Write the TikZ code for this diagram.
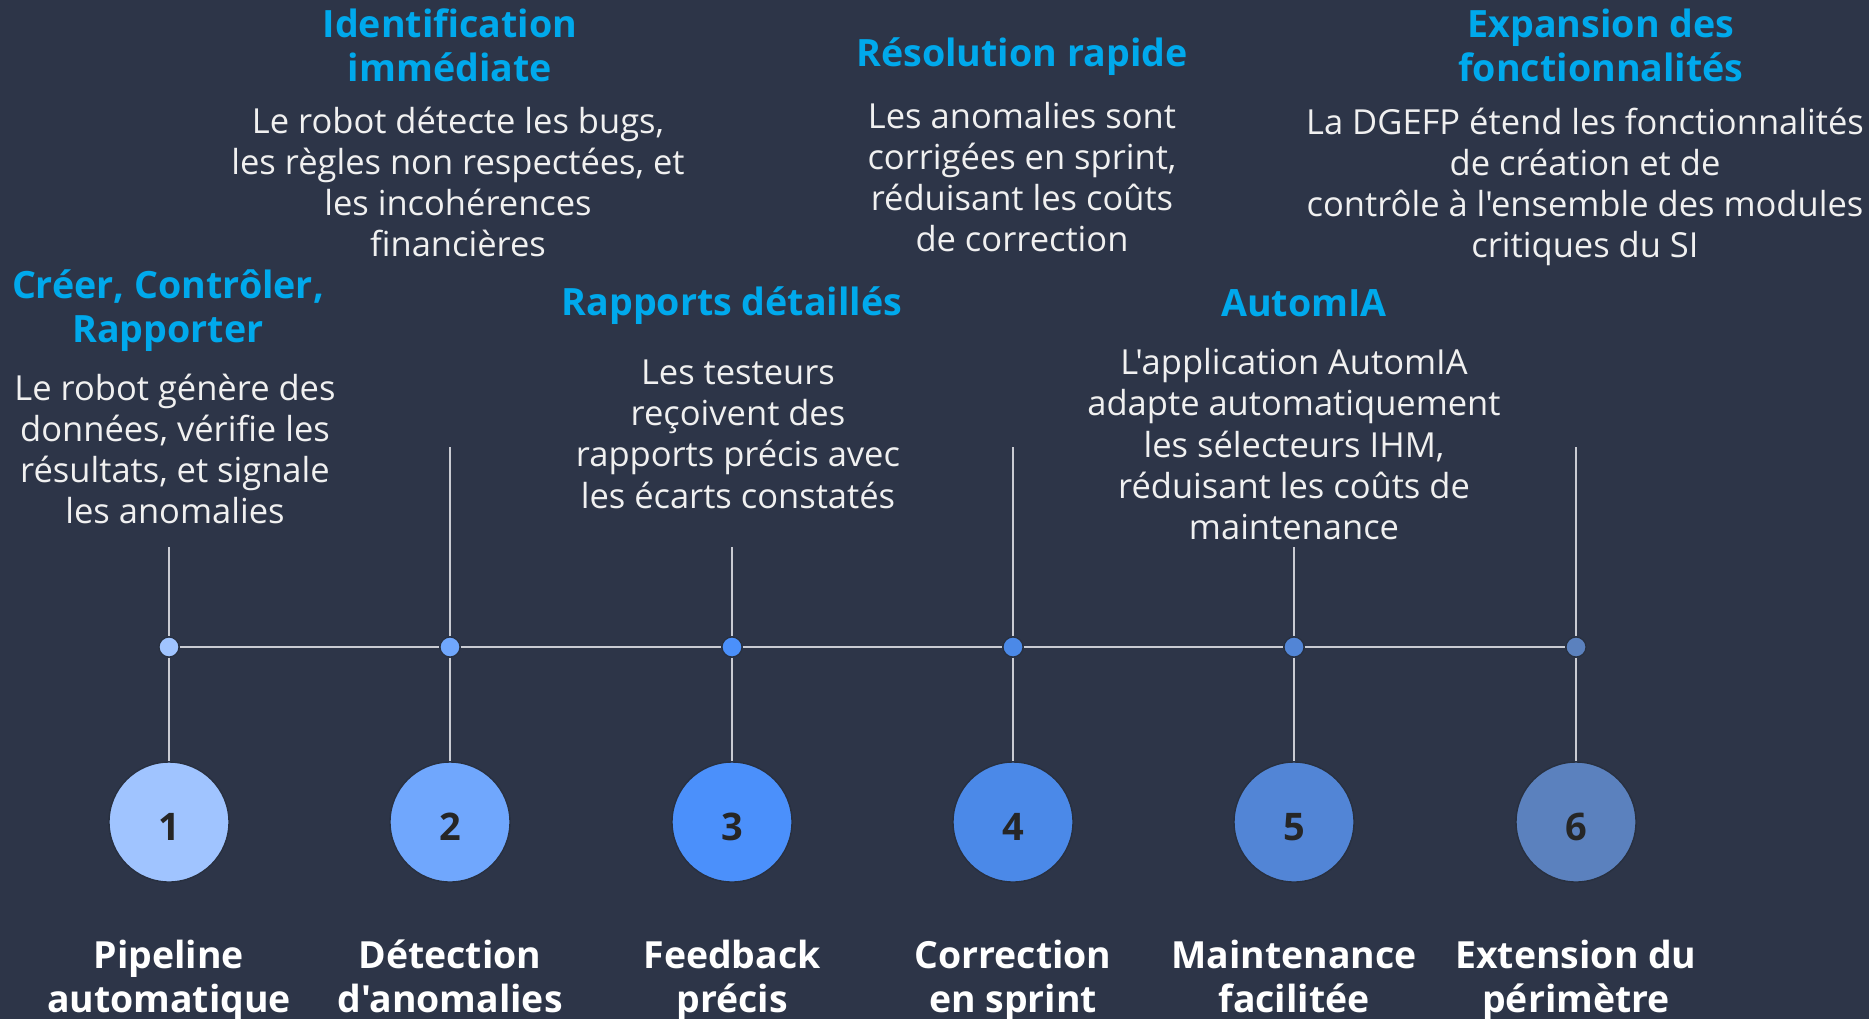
\documentclass[tikz,border=0pt]{standalone}
\usepackage{fontspec}
\setmainfont{Open Sans}[Ligatures=TeXOff]
\definecolor{bgdark}{HTML}{2D3548}
\definecolor{titleblue}{HTML}{00A9EC}
\definecolor{bodytext}{HTML}{F0F0F0}
\definecolor{rulegrey}{HTML}{C9CBD2}
\definecolor{ringdark}{HTML}{283040}
\definecolor{stepa}{HTML}{A0C4FF}
\definecolor{stepb}{HTML}{70A7FD}
\definecolor{stepc}{HTML}{4B90FB}
\definecolor{stepd}{HTML}{4B89E8}
\definecolor{stepe}{HTML}{5285D6}
\definecolor{stepf}{HTML}{5B81BE}

\begin{document}
\begin{tikzpicture}[x=0.5pt, y=-0.5pt,
    evenbox/.style={execute at begin node={\rule{0pt}{1.1em}}, execute at end node={\rule[-0.35em]{0pt}{0pt}}},
    headline/.style={evenbox, text=titleblue, align=center, inner sep=0pt, font=\fontsize{18.8}{21.9}\selectfont\bfseries},
    blurb/.style={evenbox, text=bodytext, align=center, inner sep=0pt, font=\fontsize{17.25}{20.6}\selectfont},
    caption/.style={evenbox, text=white, align=center, inner sep=0pt, font=\fontsize{18.7}{21.9}\selectfont\bfseries},
    bigdisc/.style={circle, draw=ringdark, line width=0.7pt, minimum size=60pt, inner sep=0pt,
        text height=18.3pt, text depth=0pt, text=black!85, font=\fontsize{19}{19}\selectfont\bfseries},
    knot/.style={circle, draw=ringdark, line width=0.6pt, minimum size=10pt, inner sep=0pt},
    wire/.style={draw=rulegrey, line width=1pt}]
    \fill[bgdark] (0,0) rectangle (1869,1019);
    \useasboundingbox (0,0) rectangle (1869,1019);

    \node[headline] (h1) at (168,313) {Créer, Contrôler,\\Rapporter};
    \node[blurb] (b1) at (175,455) {Le robot génère des\\données, vérifie les\\résultats, et signale\\les anomalies};
    \node[headline] (h2) at (450,52) {Identification\\immédiate};
    \node[blurb] (b2) at (458,188) {Le robot détecte les bugs,\\les règles non respectées, et\\les incohérences\\financières};
    \node[headline] (h3) at (732,301) {Rapports détaillés};
    \node[blurb] (b3) at (738,440) {Les testeurs\\reçoivent des\\rapports précis avec\\les écarts constatés};
    \node[headline] (h4) at (1022,52) {Résolution rapide};
    \node[blurb] (b4) at (1022,183) {Les anomalies sont\\corrigées en sprint,\\réduisant les coûts\\de correction};
    \node[headline] (h5) at (1304,302) {AutomIA};
    \node[blurb] (b5) at (1294,450) {L'application AutomIA\\adapte automatiquement\\les sélecteurs IHM,\\réduisant les coûts de\\maintenance};
    \node[headline] (h6) at (1601,52) {Expansion des\\fonctionnalités};
    \node[blurb] (b6) at (1585,189) {La DGEFP étend les fonctionnalités\\de création et de\\contrôle à l'ensemble des modules\\critiques du SI};

    \coordinate (t1) at (169,547);
    \coordinate (t2) at (450,447);
    \coordinate (t3) at (732,547);
    \coordinate (t4) at (1013,447);
    \coordinate (t5) at (1294,547);
    \coordinate (t6) at (1576,447);

    \node[knot, fill=stepa] (d1) at (169,647) {};
    \node[knot, fill=stepb] (d2) at (450,647) {};
    \node[knot, fill=stepc] (d3) at (732,647) {};
    \node[knot, fill=stepd] (d4) at (1013,647) {};
    \node[knot, fill=stepe] (d5) at (1294,647) {};
    \node[knot, fill=stepf] (d6) at (1576,647) {};

    \node[bigdisc, fill=stepa] (c1) at (169,822) {1};
    \node[bigdisc, fill=stepb] (c2) at (450,822) {2};
    \node[bigdisc, fill=stepc] (c3) at (732,822) {3};
    \node[bigdisc, fill=stepd] (c4) at (1013,822) {4};
    \node[bigdisc, fill=stepe] (c5) at (1294,822) {5};
    \node[bigdisc, fill=stepf] (c6) at (1576,822) {6};

    \node[caption] (l1) at (169,983) {Pipeline\\automatique};
    \node[caption] (l2) at (450,983) {Détection\\d'anomalies};
    \node[caption] (l3) at (732,983) {Feedback\\précis};
    \node[caption] (l4) at (1013,983) {Correction\\en sprint};
    \node[caption] (l5) at (1294,983) {Maintenance\\facilitée};
    \node[caption] (l6) at (1576,983) {Extension du\\périmètre};

    \draw[wire] (d1) -- (d2) -- (d3) -- (d4) -- (d5) -- (d6);
    \draw[wire] (t1) -- (d1) -- (c1);
    \draw[wire] (t2) -- (d2) -- (c2);
    \draw[wire] (t3) -- (d3) -- (c3);
    \draw[wire] (t4) -- (d4) -- (c4);
    \draw[wire] (t5) -- (d5) -- (c5);
    \draw[wire] (t6) -- (d6) -- (c6);
\end{tikzpicture}
\end{document}
